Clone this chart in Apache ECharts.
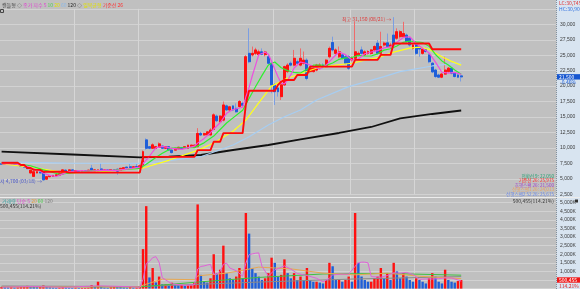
<!DOCTYPE html>
<html><head><meta charset="utf-8">
<script src="https://cdn.jsdelivr.net/npm/echarts@6/dist/echarts.min.js"></script>
<style>html,body{margin:0;padding:0;background:#c0c0c0}#c{width:580px;height:289px}</style>
</head><body><div id="c"></div><script>
// ---- price data (one entry per trading session) ----
const opens = [7450,7350,7500,7400,7450,7300,7150,7050,6950,5950,5400,5950,6100,6150,4950,5350,5400,5550,5600,5800,
6400,6300,6450,6200,6300,6150,6300,6200,6700,6250,6300,6600,6300,6450,6350,6450,6550,6350,6650,6900,
6950,6800,7000,6850,7250,11300,10200,9950,9950,10100,10300,9950,10200,9650,9650,9850,10050,9950,9950,10200,
10100,10200,12350,12100,12100,12100,13000,15150,14250,14500,16800,16150,16800,16400,16700,17200,17800,25300,25050,25300,
25100,25550,25100,24750,23700,20200,19700,18300,20200,22350,23700,23400,23950,23400,23700,24200,22350,22350,22600,22900,
23400,23150,24750,27050,25300,24750,25050,24750,24750,24250,24500,25050,25850,25050,25300,25300,25850,26950,25300,26650,
27000,26400,28250,27750,28000,28000,28250,27750,26100,26650,26400,25300,26000,25050,23700,22600,21800,21450,21950,22350,
22900,22100,21800,21650];
const closes = [7350,7500,7400,7450,7350,7150,7050,6900,6650,6400,6150,6150,5950,4850,5350,5500,5550,5650,5900,6450,
6300,6450,6300,6350,6200,6300,6200,6400,6250,6450,6450,6400,6450,6350,6500,6350,6250,6700,6800,6750,
6800,6950,6850,7100,9400,9950,9950,10500,10200,10650,9950,10200,9650,9250,9950,10100,9850,10200,10450,10450,
10450,12350,12100,12350,12600,12900,15350,14400,15150,16950,16150,16650,16150,15850,17500,16900,24750,23950,25300,25850,
25550,25150,25500,23700,20200,19100,19100,20200,23150,23400,23400,24500,23700,24500,24200,21250,22900,22900,23400,23400,
23150,24200,26100,25850,25850,25550,24500,23700,22900,24500,25550,25300,25300,25550,25600,25850,26400,25300,26400,26950,
26400,26650,26650,28800,28800,28500,27200,26650,26650,25300,26000,26000,25600,23950,22300,21550,21450,21950,22600,22900,
22100,21550,21450,21500];
const lows = [7250,7300,7300,7350,7250,7100,6950,6850,6600,5900,5350,5900,5900,4700,4900,5250,5350,5500,5550,5750,
6200,6250,6250,6150,6150,6100,6150,6150,6200,6200,6250,6300,6250,6300,6300,6300,5650,6300,6600,6700,
6750,6750,6800,6750,6600,9700,9800,9850,9850,10000,9900,9900,9600,9100,9600,9800,9800,9900,9900,10150,
10050,10100,11950,12000,12000,12050,12900,14200,14100,14300,16000,16000,16000,15700,16500,16700,17500,23700,24800,25000,
24900,25000,24800,23500,18850,16950,18300,17750,20000,22100,23200,23200,23500,23200,23500,20950,22100,22200,22400,22700,
22900,23000,24500,25600,25100,24500,24300,23500,22600,24000,24300,24800,25100,24900,25100,25100,25600,25100,25100,26400,
26200,26200,26400,27500,27700,27800,27000,26400,25900,25000,24750,25100,25400,23700,22100,21300,21300,21300,21800,22200,
21900,21400,21300,20750];
const highs = [7550,7600,7550,7550,7500,7350,7200,7150,7000,6450,6200,6250,6200,6200,5450,5550,5600,5700,5950,6500,
6500,6500,6500,6400,6350,6350,6350,6450,7250,6500,6500,7550,6500,6500,6550,6500,6650,6750,6850,6950,
7500,7000,7400,7300,9600,11550,10300,10750,10300,10900,10400,10300,10300,9700,10000,10200,10100,10250,10500,10500,
10500,13200,12600,12450,12700,13200,15600,15400,15300,17500,17000,16800,16900,17200,17750,17500,25000,29350,26400,26200,
25900,26100,25700,25100,23800,20500,20200,20300,23300,23700,24000,25850,24300,26100,25600,24500,23100,23200,23600,23700,
23700,24400,26400,28000,26100,26400,25300,25000,25000,24800,30500,25600,26400,25800,25800,26000,26600,27450,28800,27200,
28500,27000,31150,29350,29050,30400,28500,28000,26900,26900,26600,26200,26200,25300,23900,22800,22000,22100,24750,23100,
23100,22300,22000,21750];
// volume in thousands of shares
const volumes = [90,80,70,80,60,70,90,100,160,140,120,90,110,180,120,80,60,50,60,90,
70,50,40,50,40,40,40,50,200,150,400,120,60,50,80,150,130,110,70,60,
90,60,70,80,2300,4800,650,1200,360,700,250,250,190,340,200,190,210,160,190,190,
350,4900,800,400,350,600,2000,900,1100,2500,900,600,500,700,1200,600,4400,3200,1200,900,
700,500,600,900,1800,1500,700,800,1700,900,600,900,500,700,500,1200,500,400,400,350,
300,500,1500,1300,500,500,400,500,700,400,4400,1500,700,500,400,400,600,700,1200,600,
900,500,1500,1000,600,900,700,500,400,600,500,400,300,600,900,700,400,300,1100,500,
400,350,440,500];
// Ichimoku base line (기준선 26), one value per session
const baseLine = [7600,7600,7600,7600,7600,7600,7250,7250,6750,6750,6450,6450,6450,6150,6150,6150,6150,6150,6150,6150,
6150,6000,6000,6000,6000,6000,6000,6000,6000,6000,6000,6000,6000,6000,6000,6000,6000,6000,6000,6000,
6000,6000,6000,6000,8550,8550,8550,8550,8550,8550,8550,8550,8550,8550,8550,8550,8550,8550,8550,8550,
8550,9650,9650,9650,9650,9650,11000,11000,11000,12400,12400,12400,12400,12400,12400,12400,17050,19250,19250,19250,
19250,19250,19250,19250,19250,19250,20200,20700,21000,21000,21000,21000,21800,21800,21800,21800,23150,23150,23150,23150,
23150,23150,23150,23150,23150,23150,23150,23150,23150,23150,24250,24250,24250,24250,24250,24250,24250,24250,25050,25050,
25050,25050,26900,26900,26900,26900,26900,26900,26900,26900,26900,26900,26900,26900,25975,25975,25975,25975,25975,25975,
25975,25975,25975,25975];
// moving averages: [session index, price]
const ma5 = [[0,7450],[4,7410],[8,7020],[12,6260],[13,5900],[15,5560],[17,5380],[19,5810],[21,6150],[24,6320],[28,6270],[32,6400],[36,6380],[40,6660],[43,6890],[44,7420],[45,8050],[46,8650],[47,9380],[48,10000],[50,10250],[53,9940],[56,9760],[60,10280],[61,10780],[63,11540],[65,12460],[66,13060],[68,14080],[70,15600],[72,16210],[74,16460],[75,16610],[76,18230],[77,19790],[78,21680],[79,23350],[80,25080],[82,25470],[83,25150],[84,24020],[85,22730],[86,21520],[87,20460],[88,20350],[89,20990],[90,21850],[91,22930],[93,23900],[95,23630],[97,23150],[99,22770],[101,23410],[103,24540],[105,25510],[107,25090],[109,24230],[111,24390],[113,25240],[115,25520],[117,25740],[119,26180],[121,26340],[123,27090],[125,27880],[127,27990],[129,26860],[131,26120],[133,25370],[135,23880],[137,22240],[139,22090],[141,22220],[143,21900]];
const ma10 = [[0,7550],[4,7450],[9,7120],[13,6460],[18,5745],[24,6065],[28,6320],[33,6345],[38,6470],[43,6705],[45,7355],[48,8445],[50,9150],[53,9970],[56,10030],[60,10055],[63,10825],[66,11920],[70,14030],[72,14865],[75,16105],[77,18000],[79,19905],[81,21695],[83,23415],[85,23905],[87,22965],[89,22505],[91,22225],[93,22125],[95,22740],[97,23390],[99,23415],[101,23360],[103,23735],[105,24330],[107,24570],[109,24630],[111,24980],[113,24870],[115,24875],[117,25225],[119,25820],[121,26040],[123,26500],[125,27085],[127,27300],[129,27160],[131,27055],[133,26465],[135,25120],[137,24075],[139,23430],[141,22595],[143,21935]];
const ma20 = [[0,7450],[10,6800],[21,5950],[31,6150],[41,6650],[44,6750],[52,8000],[61,9600],[66,10800],[72,12700],[76,14500],[80,17300],[84,20000],[89,21300],[94,22200],[98,22900],[104,23400],[109,23700],[114,24300],[118,24750],[122,25500],[127,26150],[130,26300],[133,25950],[137,24750],[140,24000],[143,23400]];
const ma60 = [[0,7750],[20,7550],[43,7500],[52,7936],[62,8584],[72,10477],[77,11820],[83,13713],[88,15055],[93,16140],[98,17758],[108,19910],[119,21528],[124,22337],[134,23260],[143,23745]];
const ma120 = [[0,9393],[22,8940],[43,8487],[52,8584],[62,8859],[72,9668],[83,10477],[93,11399],[105,12418],[115,13389],[124,14797],[134,15493],[143,16059]];
// volume moving averages (thousands)
const vma5 = [[0,90],[10,120],[20,80],[30,160],[40,110],[43,80],[44,540],[45,1460],[46,1580],[47,1800],[48,1860],[49,1540],[50,630],[51,510],[53,270],[57,190],[60,220],[61,1140],[62,1290],[63,1320],[64,1370],[65,1410],[66,830],[67,850],[68,990],[69,1420],[70,1480],[71,1200],[72,1120],[73,1040],[75,720],[76,1480],[77,1980],[78,2020],[79,2060],[80,2080],[81,1300],[83,720],[85,1100],[86,1160],[88,1320],[90,1140],[92,880],[95,760],[98,600],[100,390],[102,610],[103,790],[105,840],[108,840],[110,1300],[111,1500],[112,1540],[113,1540],[114,1500],[115,700],[118,660],[120,760],[122,920],[124,900],[126,940],[128,820],[130,540],[132,560],[134,560],[136,580],[138,620],[140,620],[143,440]];
const vma20 = [[0,100],[43,100],[44,200],[50,550],[60,520],[61,740],[70,900],[76,1100],[80,1250],[90,1150],[100,900],[110,800],[120,900],[130,720],[143,580]];
const vma60 = [[0,120],[43,100],[61,380],[80,650],[100,850],[120,880],[143,780]];
const vma120 = [[0,150],[43,120],[80,380],[110,560],[143,700]];
const monthStarts = [23, 43, 85, 109, 129];
const totalSlots = 173;
const sessions = Array.from({length: totalSlots}, (_, i) => String(i + 1));

const RED = '#ff1010', BLUE = '#1f5fd8', RED_WICK = '#f06a6a', BLUE_WICK = '#7b9ee2';
const FONT = '"Noto Sans CJK KR","Liberation Sans",sans-serif';
const chart = echarts.init(document.getElementById('c'), null, {renderer: 'canvas'});

const xBase = (gi) => ({
  type: 'category', gridIndex: gi, data: sessions, boundaryGap: true,
  axisLine: {show: false}, axisTick: {show: false}, axisLabel: {show: false},
  splitLine: {show: true, interval: (i) => monthStarts.indexOf(i) >= 0, lineStyle: {color: '#d6d6d6', width: 1}}
});
const lineS = (data, color, width, yi, z) => ({
  type: 'line', data, xAxisIndex: yi, yAxisIndex: yi, symbol: 'none', silent: true,
  lineStyle: {color, width}, z: z || 3, animation: false
});

chart.setOption({
  backgroundColor: '#c0c0c0',
  animation: false,
  grid: [
    {left: 0, right: 24, top: 8.85, height: 185.45},
    {left: 0, right: 24, top: 202.7, height: 85.9}
  ],
  xAxis: [xBase(0), xBase(1)],
  yAxis: [
    {type: 'value', gridIndex: 0, position: 'right', min: 2500, max: 32500, interval: 2500,
     axisLine: {show: false}, axisTick: {show: false},
     axisLabel: {fontSize: 5, fontFamily: '"Liberation Sans",sans-serif', color: '#3a3a3a', margin: 4,
       formatter: v => v >= 32500 ? '' : v.toLocaleString('en-US')},
     splitLine: {lineStyle: {color: '#d2d2d2', width: 1}}},
    {type: 'value', gridIndex: 1, position: 'right', min: 0, max: 5000, interval: 500,
     axisLine: {show: false}, axisTick: {show: false},
     axisLabel: {fontSize: 5, fontFamily: '"Liberation Sans",sans-serif', color: '#3a3a3a', margin: 4,
       formatter: v => v >= 1000 ? v.toLocaleString('en-US') + 'K' : ''},
     splitLine: {lineStyle: {color: '#d2d2d2', width: 1}}}
  ],
  series: [
    // full candles in lighter colours (gives the pale wicks)
    {type: 'candlestick', xAxisIndex: 0, yAxisIndex: 0, barWidth: 2.4, z: 2, silent: true,
     data: opens.map((o, i) => [o, closes[i], lows[i], highs[i]]),
     itemStyle: {color: RED_WICK, color0: BLUE_WICK, borderColor: RED_WICK, borderColor0: BLUE_WICK, borderWidth: 1},
     markPoint: {symbol: 'circle', symbolSize: 1, itemStyle: {color: 'rgba(0,0,0,0)'}, silent: true,
       data: [
         {coord: [13, 4700], label: {show: true, position: 'left', distance: 1, formatter: '최저 4,700 (03/18) →', color: '#4a58c8', fontSize: 5, fontFamily: FONT}},
         {coord: [122, 31150], label: {show: true, position: 'left', distance: 2, offset: [0, 2], formatter: '최고 31,150 (08/21) →', color: '#e03838', fontSize: 5, fontFamily: FONT}}
       ]}},
    // solid bodies on top (same open/close, no shadow)
    {type: 'candlestick', xAxisIndex: 0, yAxisIndex: 0, barWidth: 2.4, z: 2, silent: true,
     data: opens.map((o, i) => [o, closes[i], Math.min(o, closes[i]), Math.max(o, closes[i])]),
     itemStyle: {color: RED, color0: BLUE, borderColor: RED, borderColor0: BLUE, borderWidth: 1}},
    lineS(ma120, '#111111', 1.8, 0, 3),
    lineS(ma60, '#a6cdf2', 1.2, 0, 3),
    lineS(ma20, '#ffff1a', 1.2, 0, 4),
    lineS(ma10, '#2ef02e', 1.2, 0, 4),
    lineS(ma5, '#ee4ee0', 1.2, 0, 4),
    lineS(baseLine, '#ff0a0a', 1.9, 0, 5),
    {type: 'bar', xAxisIndex: 1, yAxisIndex: 1, barWidth: 2.4, data: volumes, z: 2,
     itemStyle: {color: p => (p.dataIndex === 0 || volumes[p.dataIndex] >= volumes[p.dataIndex - 1]) ? RED : BLUE}},
    lineS(vma120, '#8a8a8a', 1, 1, 3),
    lineS(vma60, '#40c040', 1, 1, 3),
    lineS(vma20, '#e8a850', 1, 1, 3),
    lineS(vma5, '#e060d8', 1, 1, 4)
  ]
});

// annotations anchored to data values
const yClose = chart.convertToPixel({yAxisIndex: 0}, closes[closes.length - 1]);
const yVol = chart.convertToPixel({yAxisIndex: 1}, 500);
const small = (text, x, y, fill, align, size) => ({type: 'text', x, y, z: 100, silent: true,
  style: {text, fill, font: (size || 5) + 'px ' + FONT, textAlign: align || 'left', textVerticalAlign: 'middle'}});
const legendRich = {
  g: {fill: '#444', fontSize: 5, fontFamily: FONT}, m: {fill: '#e040d0', fontSize: 5, fontFamily: FONT},
  gr: {fill: '#4ad04a', fontSize: 5, fontFamily: FONT}, y: {fill: '#e0e000', fontSize: 5, fontFamily: FONT},
  lb: {fill: '#8ab8e8', fontSize: 5, fontFamily: FONT}, k: {fill: '#222', fontSize: 5, fontFamily: FONT},
  r: {fill: '#ff3030', fontSize: 5, fontFamily: FONT}, t: {fill: '#3aa0a0', fontSize: 5, fontFamily: FONT},
  o: {fill: '#e0a040', fontSize: 5, fontFamily: FONT}, gy: {fill: '#808080', fontSize: 5, fontFamily: FONT}
};
chart.setOption({
  graphic: [
    {type: 'rect', z: -10, silent: true, shape: {x: 556, y: 0, width: 24, height: 289}, style: {fill: '#d8e4f0'}},
    {type: 'line', z: 50, silent: true, shape: {x1: 556.5, y1: 0, x2: 556.5, y2: 289}, style: {stroke: '#8090a0', lineWidth: 1, lineDash: [1, 1]}},
    {type: 'line', z: 50, silent: true, shape: {x1: 0, y1: 197.5, x2: 580, y2: 197.5}, style: {stroke: '#ececec', lineWidth: 1}},
    {type: 'rect', z: 50, silent: true, shape: {x: 0.5, y: 9.5, width: 3, height: 3}, style: {fill: 'none', stroke: '#444', lineWidth: 1}},
    {type: 'text', x: 2, y: 5, z: 100, silent: true, style: {text: '{g|캔들형} {g|◇} {m|종가 지수 5} {gr|10} {y|20} {lb|60} {k|120} {g|◇} {y|일목균형} {r|기준선 26}', rich: legendRich, textVerticalAlign: 'middle', font: '5px ' + FONT}},
    {type: 'text', x: 2, y: 201.5, z: 100, silent: true, style: {text: '{t|거래량} {m|단순 5} {o|20} {gr|60} {gy|120}', rich: legendRich, textVerticalAlign: 'middle', font: '5px ' + FONT}},
    small('500,455(114.21%)', 0, 206, '#333'),
    small('500,455(114.21%)', 554, 201, '#333', 'right'),
    {type: 'rect', z: 100, silent: true, shape: {x: 575, y: 199.5, width: 3, height: 3}, style: {fill: '#333'}},
    small('LC:30,745', 559, 3.5, '#e03030'),
    small('HC:30,900', 559, 9, '#3070e0'),
    small('전환선 9: 22,050', 554, 176, '#20a070', 'right', 4.6),
    small('기준선 26: 25,975', 554, 180.5, '#ff2a2a', 'right', 4.6),
    small('후행스팬 26: 21,500', 554, 185, '#a040c8', 'right', 4.6),
    small('선행스팬1 26: 24,013', 554, 189.5, '#e8a060', 'right', 4.6),
    small('선행스팬2 52 26: 25,675', 554, 194, '#6a88e8', 'right', 4.6),
    {type: 'rect', z: 100, silent: true, shape: {x: 557, y: yClose - 2.7, width: 23, height: 5.4}, style: {fill: '#1656d0'}},
    small('21,500', 559, yClose, '#ffffff'),
    small('-0.46%', 560, yClose + 5, '#2060d8'),
    {type: 'rect', z: 100, silent: true, shape: {x: 557, y: yVol - 2.7, width: 23, height: 5.4}, style: {fill: '#f01818'}},
    small('500,455', 559, yVol, '#ffffff'),
    small('114.21%', 559, yVol + 6, '#e02020')
  ]
});
</script></body></html>
